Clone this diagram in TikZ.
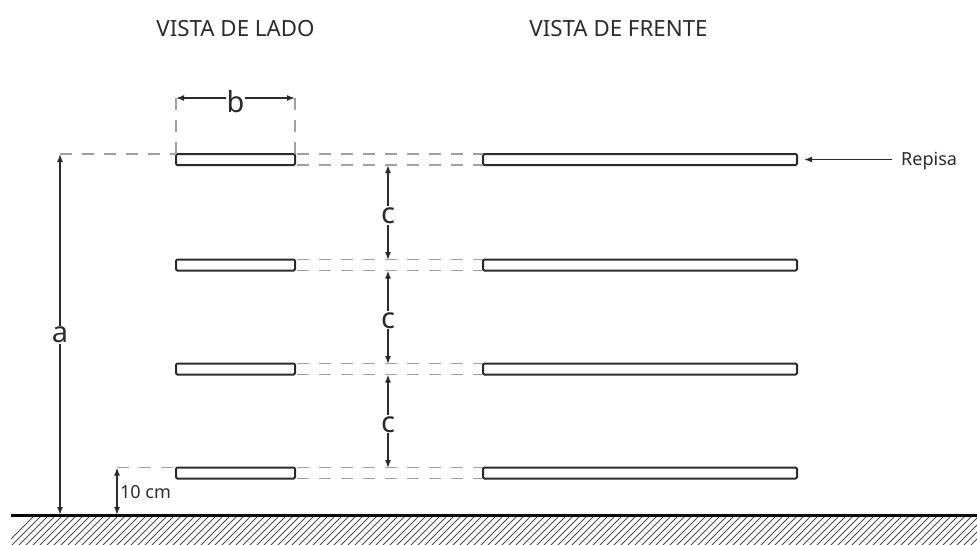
\documentclass[tikz,border=0pt]{standalone}
\usepackage{fontspec}
\setmainfont{Noto Sans}
\usetikzlibrary{arrows.meta}
\definecolor{ink}{HTML}{2B2B2B}
\definecolor{dash}{HTML}{A0A0A0}
\tikzset{
  x=1pt,y=-1pt,
  shelf/.style={draw=ink,line width=2pt,fill=white,rounded corners=1.2pt,inner sep=0pt,outer sep=0pt,minimum height=11pt},
  sideshelf/.style={shelf,minimum width=119pt},
  frontshelf/.style={shelf,minimum width=314pt},
  guide/.style={draw=dash,line width=1.5pt,dash pattern=on 12pt off 10pt},
  dim/.style={draw=ink,line width=1.5pt,{Latex[length=8pt,width=6pt]}-{Latex[length=8pt,width=6pt]}},
  ptr/.style={draw=ink,line width=1.5pt,{Latex[length=8pt,width=6pt]}-},
  big/.style={font=\fontsize{29}{31}\selectfont,text=ink,fill=white,inner sep=1pt},
  title/.style={font=\fontsize{22.3}{24}\selectfont,text=ink,inner sep=0pt},
  small/.style={font=\fontsize{18}{20}\selectfont,text=ink,inner sep=0pt},
}
\begin{document}
\begin{tikzpicture}
\useasboundingbox (0,0) rectangle (977,544);
% ground
\begin{scope}
  \clip (11,515) rectangle (977,544);
  \foreach \i in {0,7,...,1010}{
    \draw[gray!60!black,line width=.9pt] (\i,550) -- (\i+40,510);
  }
\end{scope}
\coordinate (gl) at (11,515);
\coordinate (gr) at (977,515);
\draw[black,line width=3pt] (gl) -- (gr);
% titles
\node[title] (t1) at (235.5,29) {VISTA DE LADO};
\node[title] (t2) at (618.5,29) {VISTA DE FRENTE};
% guides between views are drawn first, shelves on top
\node[sideshelf] (s1) at (235.5,159.5) {};
\node[sideshelf] (s2) at (235.5,265) {};
\node[sideshelf] (s3) at (235.5,369) {};
\node[sideshelf] (s4) at (235.5,473) {};
\node[frontshelf] (f1) at (640,159.5) {};
\node[frontshelf] (f2) at (640,265) {};
\node[frontshelf] (f3) at (640,369) {};
\node[frontshelf] (f4) at (640,473) {};
\foreach \k in {1,2,3,4}{
  \draw[guide] ([xshift=2pt]s\k.north east) -- (f\k.north west);
  \draw[guide] ([xshift=2pt]s\k.south east) -- (f\k.south west);
}
% dimension a
\coordinate (atop) at (60,154);
\coordinate (abot) at (60,515);
\draw[guide] (atop) -- (s1.north west);
\draw[dim] (atop) -- (abot) node[big,pos=.495,yshift=-2pt] (la) {a};
% dimension b
\coordinate (bl) at (176,98);
\coordinate (br) at (295,98);
\draw[guide] (bl) -- (s1.north west);
\draw[guide] (br) -- (s1.north east);
\draw[dim] (bl) -- (br) node[big,midway,yshift=-4pt] (lb) {b};
% dimensions c
\coordinate (c1a) at (388,165);
\coordinate (c1b) at (388,260);
\coordinate (c2a) at (388,270.5);
\coordinate (c2b) at (388,364);
\coordinate (c3a) at (388,374.5);
\coordinate (c3b) at (388,468);
\draw[dim] (c1a) -- (c1b) node[big,midway,yshift=-3pt] (lc1) {c};
\draw[dim] (c2a) -- (c2b) node[big,midway,yshift=-3pt] (lc2) {c};
\draw[dim] (c3a) -- (c3b) node[big,midway,yshift=-3pt] (lc3) {c};
% 10 cm
\coordinate (dt) at (117,467.5);
\coordinate (db) at (117,515);
\draw[guide] (dt) -- (s4.north west);
\draw[dim] (dt) -- (db);
\node[small,anchor=west] (l10) at (120,492) {10 cm};
% Repisa
\node[small,anchor=west] (rep) at (901,161) {Repisa};
\coordinate (rp) at (804,159.5);
\coordinate (rq) at (892,159.5);
\draw[ptr] (rp) -- (rq);
\end{tikzpicture}
\end{document}
